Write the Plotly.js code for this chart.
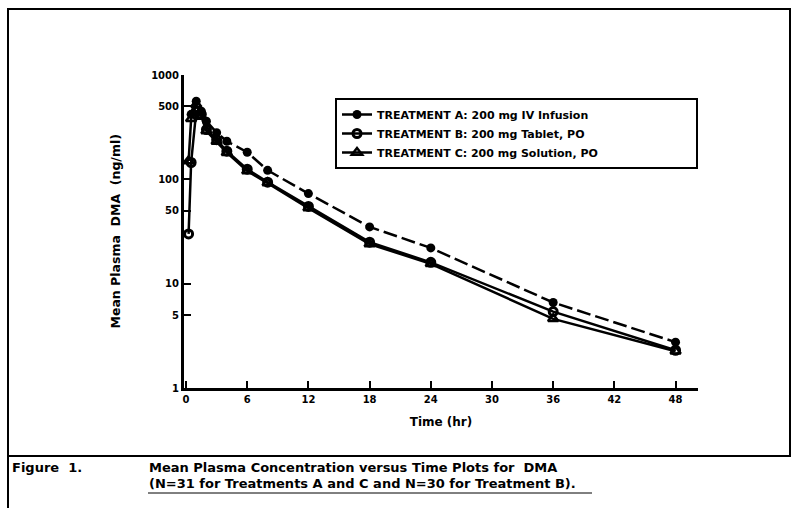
<!DOCTYPE html>
<html>
<head>
<meta charset="utf-8">
<script src="https://cdn.plot.ly/plotly-3.0.1.min.js"></script>
<style>html,body{margin:0;padding:0;background:#fff;}#chart{width:794px;height:508px;}</style>
</head>
<body>
<div id="chart"></div>
<script>
// Time points (hr)
const timeA = [0.5, 1, 1.5, 2, 3, 4, 6, 8, 12, 18, 24, 36, 48];
const timeB = [0.25, 0.5, 1, 1.5, 2, 3, 4, 6, 8, 12, 18, 24, 36, 48];
const timeC = [0.25, 0.5, 1, 1.5, 2, 3, 4, 6, 8, 12, 18, 24, 36, 48];
// Mean plasma DMA concentration (ng/ml)
const concA = [420, 560, 450, 360, 280, 232, 182, 122, 73, 35, 22, 6.6, 2.75];
const concB = [30, 145, 450, 420, 300, 240, 186, 125, 94, 55, 25, 16, 5.4, 2.3];
const concC = [150, 380, 520, 400, 290, 230, 180, 120, 92, 53, 24, 15.5, 4.6, 2.25];
const seriesNames = ['TREATMENT A: 200 mg IV Infusion', 'TREATMENT B: 200 mg Tablet, PO', 'TREATMENT C: 200 mg Solution, PO'];
const xTicks = [0, 6, 12, 18, 24, 30, 36, 42, 48];
const yTicks = [1, 5, 10, 50, 100, 500, 1000];
const yTickText = ['1', '5', '10', '50', '100', '500', '1000'];

const FONT = 'Liberation Sans, Arial, sans-serif';
const WIDE = 'DejaVu Sans, Verdana, sans-serif';
const W = 794, H = 508, L = 184, R = 96, T = 75, B = 120;
const pw = W - L - R, ph = H - T - B;
const px = v => (v - L) / pw;
const py = v => (H - B - v) / ph;

const traces = [
  {x: timeA, y: concA, name: seriesNames[0], mode: 'lines+markers',
   line: {color: '#000', width: 2.5, dash: '14px,5px'},
   marker: {symbol: 'circle', size: 9, color: '#000'}},
  {x: timeB, y: concB, name: seriesNames[1], mode: 'lines+markers',
   line: {color: '#000', width: 2.5},
   marker: {symbol: 'circle-open', size: 8, color: '#000', line: {width: 3, color: '#000'}}},
  {x: timeC, y: concC, name: seriesNames[2], mode: 'lines+markers',
   line: {color: '#000', width: 2.5},
   marker: {symbol: 'triangle-up-open', size: 9, color: '#000', line: {width: 2.5, color: '#000'}}}
];

const layout = {
  width: W, height: H,
  margin: {l: L, r: R, t: T, b: B},
  paper_bgcolor: '#fff', plot_bgcolor: '#fff',
  font: {family: FONT, color: '#000', size: 11},
  showlegend: true,
  legend: {x: px(335), y: py(98), xanchor: 'left', yanchor: 'top',
    orientation: 'h', entrywidth: 314, entrywidthmode: 'pixels',
    bordercolor: '#000', borderwidth: 2, bgcolor: '#fff',
    font: {family: WIDE, size: 11, color: '#000', weight: 'bold'},
    itemwidth: 30},
  xaxis: {range: [-0.2, 50.2], tickvals: xTicks, ticktext: xTicks.map(String),
    showgrid: false, zeroline: false, showline: true, linecolor: '#000', linewidth: 3,
    ticks: 'inside', ticklen: 7, tickwidth: 2, tickcolor: '#000',
    tickfont: {family: WIDE, size: 10, color: '#000', weight: 'bold'},
    title: {text: 'Time (hr)', font: {family: WIDE, size: 12, color: '#000', weight: 'bold'}, standoff: 14}},
  yaxis: {type: 'log', range: [0, 3], tickvals: yTicks, ticktext: yTickText,
    showgrid: false, zeroline: false, showline: true, linecolor: '#000', linewidth: 3,
    ticks: 'inside', ticklen: 7, tickwidth: 2, tickcolor: '#000',
    tickfont: {family: WIDE, size: 10, color: '#000', weight: 'bold'}},
  shapes: [
    {type: 'rect', xref: 'paper', yref: 'paper', x0: px(8), x1: px(790), y0: py(456), y1: py(9),
     line: {color: '#000', width: 2}},
    {type: 'line', xref: 'paper', yref: 'paper', x0: px(8), x1: px(8), y0: py(456), y1: py(508),
     line: {color: '#000', width: 2}},
    {type: 'line', xref: 'paper', yref: 'paper', x0: px(148), x1: px(592), y0: py(493), y1: py(493),
     line: {color: '#000', width: 1}}
  ],
  annotations: [
    {xref: 'paper', yref: 'paper', x: px(105), y: py(232), text: 'Mean Plasma  DMA  (ng/ml)',
     textangle: -90, showarrow: false, font: {family: WIDE, size: 12.5, color: '#000', weight: 'bold'}},
    {xref: 'paper', yref: 'paper', x: px(10), y: py(467), xanchor: 'left', yanchor: 'middle',
     text: 'Figure  1.', showarrow: false, font: {family: WIDE, size: 13, color: '#000', weight: 'bold'}},
    {xref: 'paper', yref: 'paper', x: px(147), y: py(467), xanchor: 'left', yanchor: 'middle', align: 'left',
     text: 'Mean Plasma Concentration versus Time Plots for  DMA', showarrow: false,
     font: {family: WIDE, size: 13, color: '#000', weight: 'bold'}},
    {xref: 'paper', yref: 'paper', x: px(147), y: py(483), xanchor: 'left', yanchor: 'middle', align: 'left',
     text: '(N=31 for Treatments A and C and N=30 for Treatment B).', showarrow: false,
     font: {family: WIDE, size: 13, color: '#000', weight: 'bold'}}
  ]
};

Plotly.newPlot('chart', traces, layout, {displayModeBar: false, staticPlot: true});
</script>
</body>
</html>
